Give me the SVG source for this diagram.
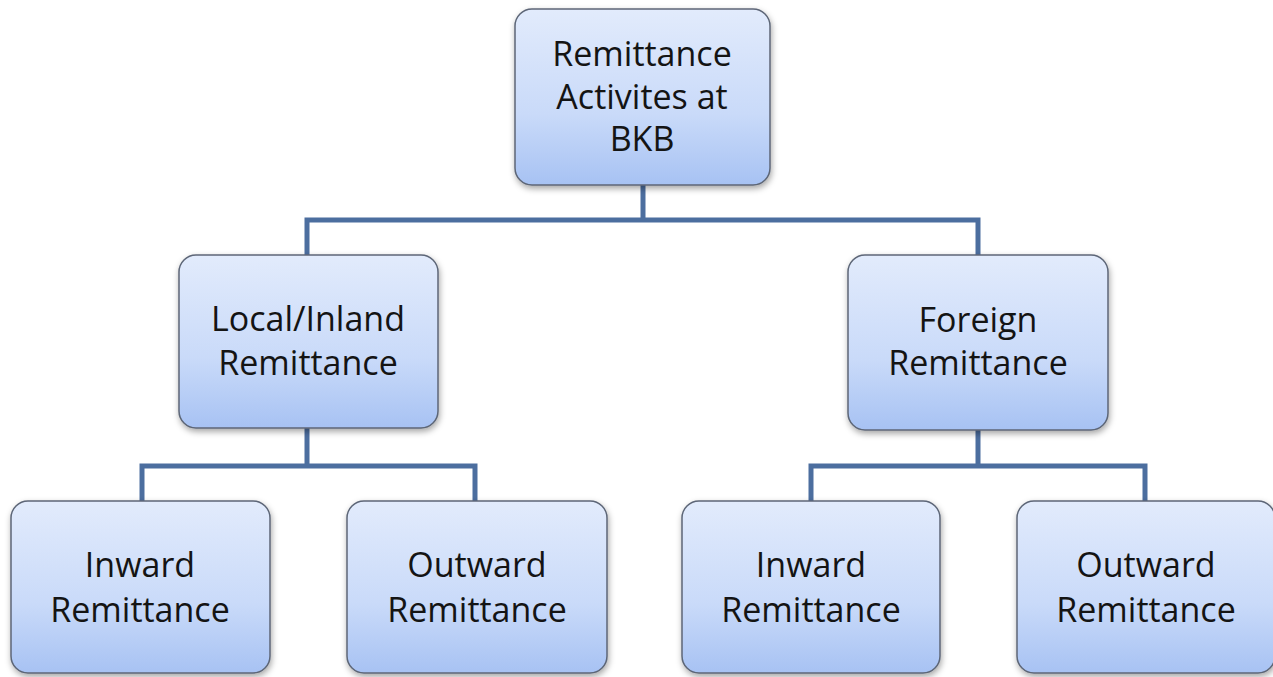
<svg xmlns="http://www.w3.org/2000/svg" width="1273" height="677" viewBox="0 0 1273 677">
<defs>
<linearGradient id="g" x1="0" y1="0" x2="0" y2="1">
<stop offset="0" stop-color="#e2ebfc"/>
<stop offset="0.6" stop-color="#c9daf9"/>
<stop offset="1" stop-color="#a7c2f3"/>
</linearGradient>
<filter id="sh" x="-10%" y="-10%" width="125%" height="130%">
<feDropShadow dx="1" dy="3" stdDeviation="3" flood-color="#000" flood-opacity="0.35"/>
</filter>
</defs>
<style>
.box{fill:url(#g);stroke:#5d6677;stroke-width:1.5;filter:url(#sh)}
.t{font-family:"Open Sans","Liberation Sans",sans-serif;font-size:34px;fill:#141414;text-anchor:middle}
.c{fill:none;stroke:#4c6e9f;stroke-width:5}
</style>
<rect width="1273" height="677" fill="#fff"/>
<g id="connectors">
<path class="c" d="M643 185V220M307 255V220H978V255"/>
<path class="c" d="M307 428V466M142 501V466H475V501"/>
<path class="c" d="M978 430V466M811 501V466H1145V501"/>
</g>
<g id="root">
<rect class="box" x="515" y="9" width="255" height="176" rx="17"/>
<text class="t" x="642" y="66">Remittance</text>
<text class="t" x="642" y="109">Activites at</text>
<text class="t" x="642" y="151">BKB</text>
</g>
<g id="local">
<rect class="box" x="179" y="255" width="259" height="173" rx="17"/>
<text class="t" x="308" y="331">Local/Inland</text>
<text class="t" x="308" y="375">Remittance</text>
</g>
<g id="foreign">
<rect class="box" x="848" y="255" width="260" height="175" rx="17"/>
<text class="t" x="978" y="332">Foreign</text>
<text class="t" x="978" y="375">Remittance</text>
</g>
<g id="local-inward">
<rect class="box" x="11" y="501" width="259" height="172" rx="17"/>
<text class="t" x="140" y="577">Inward</text>
<text class="t" x="140" y="622">Remittance</text>
</g>
<g id="local-outward">
<rect class="box" x="347" y="501" width="260" height="172" rx="17"/>
<text class="t" x="477" y="577">Outward</text>
<text class="t" x="477" y="622">Remittance</text>
</g>
<g id="foreign-inward">
<rect class="box" x="682" y="501" width="258" height="172" rx="17"/>
<text class="t" x="811" y="577">Inward</text>
<text class="t" x="811" y="622">Remittance</text>
</g>
<g id="foreign-outward">
<rect class="box" x="1017" y="501" width="258" height="172" rx="17"/>
<text class="t" x="1146" y="577">Outward</text>
<text class="t" x="1146" y="622">Remittance</text>
</g>
</svg>
